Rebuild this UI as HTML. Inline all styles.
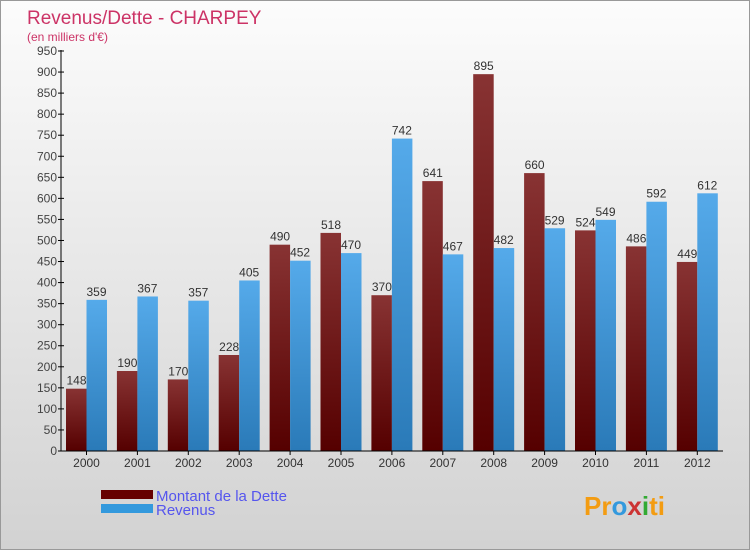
<!DOCTYPE html>
<html><head><meta charset="utf-8"><style>
body{margin:0}
#c{width:750px;height:550px;position:relative;overflow:hidden;background:linear-gradient(#fcfcfc,#d2d2d2);font-family:"Liberation Sans",sans-serif;border:1px solid #999;box-sizing:border-box}
</style></head><body>
<div id="c">
<svg id="s" width="750" height="550" xmlns="http://www.w3.org/2000/svg">
<defs>
<linearGradient id="gd" x1="0" y1="0" x2="0" y2="1"><stop offset="0" stop-color="#883333"/><stop offset="1" stop-color="#550000"/></linearGradient>
<linearGradient id="gr" x1="0" y1="0" x2="0" y2="1"><stop offset="0" stop-color="#55aaea"/><stop offset="1" stop-color="#2a7ab8"/></linearGradient>
</defs>
<text x="26" y="23" font-size="19" fill="#cc3366">Revenus/Dette - CHARPEY</text>
<text x="26" y="40" font-size="12" fill="#cc3366">(en milliers d'€)</text>
<g id="g"></g>
<rect x="100" y="489" width="52" height="9" fill="#660000"/>
<rect x="100" y="503" width="52" height="9" fill="#3399dd"/>
<text x="155" y="500" font-size="15" fill="#5555ee">Montant de la Dette</text>
<text x="155" y="514" font-size="15" fill="#5555ee">Revenus</text>
<text x="583" y="514" font-size="26" font-weight="bold" fill="#f39c12">Pr<tspan fill="#3399dd">o</tspan><tspan fill="#cc3333">x</tspan><tspan fill="#33aa33">i</tspan>ti</text>
</svg></div>
<script>
const years=["2000","2001","2002","2003","2004","2005","2006","2007","2008","2009","2010","2011","2012"];
const dette=[148,190,170,228,490,518,370,641,895,660,524,486,449];
const revenus=[359,367,357,405,452,470,742,467,482,529,549,592,612];
const ticks=[0,50,100,150,200,250,300,350,400,450,500,550,600,650,700,750,800,850,900,950];
const NS="http://www.w3.org/2000/svg";
const g=document.getElementById('g');
const y=v=>450-v*400/950;
const x=i=>85.5+i*50.9;
function mk(t,a,txt){const e=document.createElementNS(NS,t);for(const k in a)e.setAttribute(k,a[k]);if(txt!==undefined)e.textContent=txt;g.appendChild(e);return e;}
years.forEach((yr,i)=>{
 const d=mk('rect',{x:x(i)-20.5,y:y(dette[i]),width:20.5,height:450-y(dette[i]),fill:'url(#gd)'});
 
 
 const r=mk('rect',{x:x(i),y:y(revenus[i]),width:20.5,height:450-y(revenus[i]),fill:'url(#gr)'});
 
 
 const l1=mk('text',{x:x(i)-10,y:y(dette[i])-4,'font-size':12,fill:'#333','text-anchor':'middle'},dette[i]);
 
 
 const l2=mk('text',{x:x(i)+10,y:y(revenus[i])-4,'font-size':12,fill:'#333','text-anchor':'middle'},revenus[i]);
 
 
 const xl=mk('text',{x:x(i),y:466,'font-size':12,fill:'#333','text-anchor':'middle'},yr);
 
 
 mk('line',{x1:x(i),x2:x(i),y1:450,y2:454,stroke:'#000'});
});
ticks.forEach(t=>{
 mk('line',{x1:57,x2:63,y1:y(t),y2:y(t),stroke:'#000'});
 const tl=mk('text',{x:56,y:y(t)+4,'font-size':12,fill:'#444','text-anchor':'end'},t);
 
 
});
const ya=mk('line',{x1:60,x2:60,y1:49,y2:450,stroke:'#000'});


const xa=mk('line',{x1:60,x2:722,y1:450,y2:450,stroke:'#000'});


</script>
</body></html>
